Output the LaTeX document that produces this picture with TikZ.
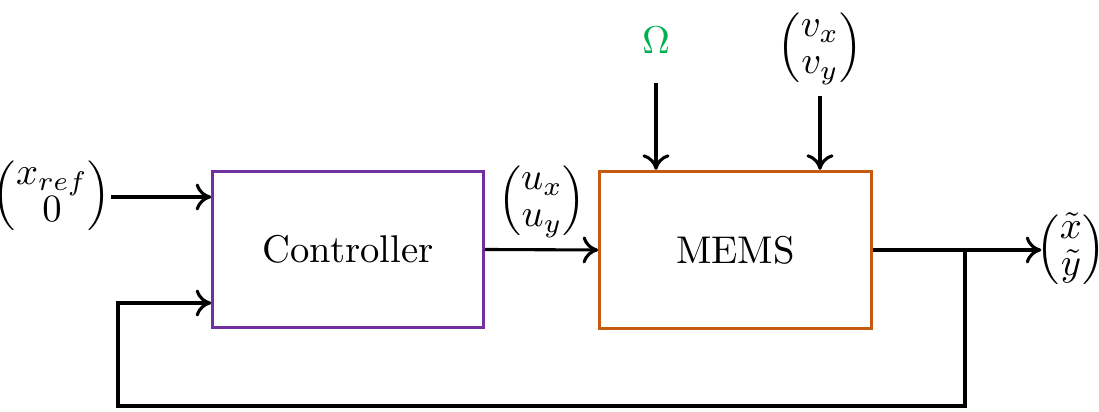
\documentclass[tikz,border=0pt]{standalone}
\usepackage{amsmath}
\usetikzlibrary{arrows.meta}
\definecolor{ctrlpurple}{HTML}{7030A0}
\definecolor{memsorange}{HTML}{C55A11}
\definecolor{omegagreen}{HTML}{00B050}
\newcommand{\vect}[2]{{\renewcommand{\arraystretch}{0.8}\setlength{\arraycolsep}{1.5pt}\begin{pmatrix}#1\\ #2\end{pmatrix}}}
\begin{document}
\begin{tikzpicture}[x=0.0090909cm,y=-0.0090909cm,
  vec/.style={inner sep=0pt,outer sep=0pt},
  conn/.style={line width=0.8pt,-{To[length=4pt,width=7pt]}}]
\useasboundingbox (0,0) rectangle (1099,412);
\node[draw=ctrlpurple,line width=0.8pt,minimum width=2.46cm,minimum height=1.42cm] (ctrl) at (348,249.5) {Controller};
\node[draw=memsorange,line width=0.8pt,minimum width=2.47cm,minimum height=1.43cm] (mems) at (735.5,250) {MEMS};
\node[vec] (xref) at (52,196) {$\vect{x_{ref}}{0}$};
\node[vec] (u) at (542,201) {$\vect{u_{x}}{u_{y}}$};
\node[vec] (om) at (656,40) {$\color{omegagreen}\Omega$};
\node[vec] (v) at (820,48) {$\vect{v_{x}}{v_{y}}$};
\node[vec] (out) at (1071,250) {$\vect{\tilde{x}}{\tilde{y}}$};
\coordinate (split) at (965,250);
\draw[conn] (xref.east |- 0,197) -- (ctrl.west |- 0,197);
\draw[conn] (ctrl.east) -- (mems.west);
\draw[conn] ([yshift=-0.27cm]om.south) -- (om.south |- mems.north);
\draw[conn] ([yshift=-0.1cm]v.south) -- (v.south |- mems.north);
\draw[conn] (mems.east) -- ([xshift=0.04cm]out.west);
\draw[conn] (split) -- (965,406) -- (118,406) -- (118,303) -- (ctrl.west |- 0,303);
\end{tikzpicture}
\end{document}
